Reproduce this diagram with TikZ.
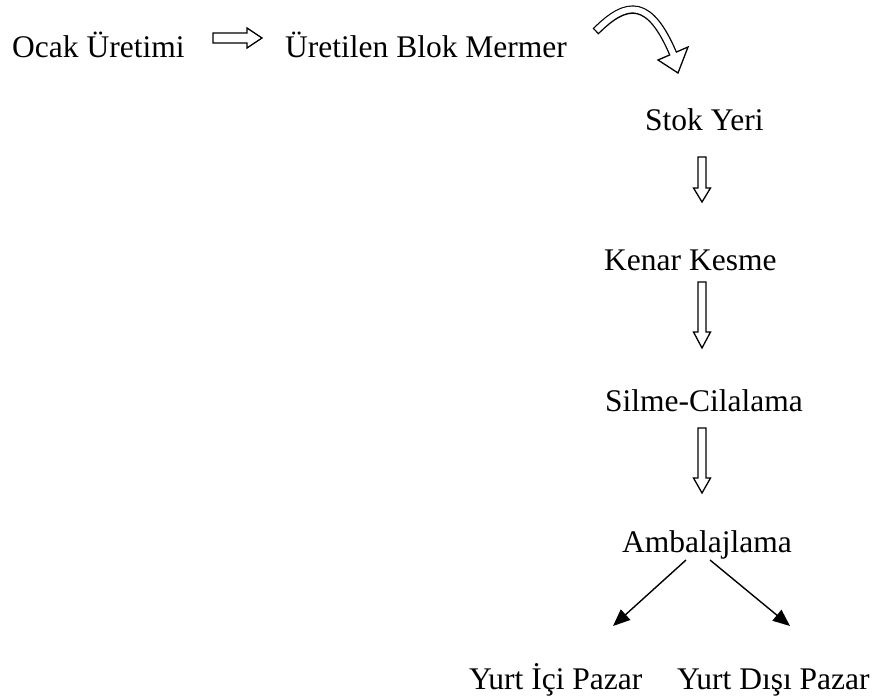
\documentclass[tikz,border=0pt]{standalone}
\usepackage{fontspec}
\setmainfont{Liberation Serif}
\usetikzlibrary{arrows.meta}
\newcommand\downblock[4]{% x, top, headbase, tip
  \draw[blockarrow] (#1-4,#2) -- (#1+4,#2) -- (#1+4,#3) -- (#1+8.5,#3) -- (#1,#4) -- (#1-8.5,#3) -- (#1-4,#3) -- cycle;}
\begin{document}
\begin{tikzpicture}[x=1pt,y=-1pt,
  lbl/.style={anchor=base west, inner sep=0pt, font=\fontsize{31.5}{36}\selectfont},
  blockarrow/.style={draw=black, line width=1.3pt, fill=white, line join=miter},
  thinarrow/.style={line width=1.4pt, -{Triangle[length=17pt,width=14pt]}}]
\useasboundingbox (0,0) rectangle (874,699);

\node[lbl] (ocak) at (12,57) {Ocak Üretimi};
\node[lbl] (uret) at (285,57) {Üretilen Blok Mermer};
\node[lbl] (stok) at (645,130) {Stok Yeri};
\node[lbl] (kenar) at (604,270) {Kenar Kesme};
\node[lbl] (silme) at (605,411) {Silme-Cilalama};
\node[lbl] (amb) at (622,552) {Ambalajlama};
\node[lbl] (yic) at (469,689) {Yurt İçi Pazar};
\node[lbl] (ydis) at (677,689) {Yurt Dışı Pazar};

% horizontal block arrow
\draw[blockarrow] (213,33) -- (247,33) -- (247,28) -- (262,38) -- (247,48) -- (247,43) -- (213,43) -- cycle;

% curved block arrow
\draw[line width=8.4pt] (595.5,31.5) .. controls (627.3,-0.3) and (650,-1.6) .. (673.8,55.3);
\draw[blockarrow] (658,60) -- (678,73) -- (688,47) -- cycle;
\draw[white, line width=5.8pt, shorten <=1.3pt] (595.5,31.5) .. controls (627.3,-0.3) and (650,-1.6) .. (673.8,55.3);

% vertical block arrows
\downblock{702}{157}{188}{202}
\downblock{702}{282}{332}{348}
\downblock{702}{428}{478}{493}

% diagonal arrows
\coordinate (a1s) at (686,560);
\coordinate (a1e) at (613,626);
\coordinate (a2s) at (710,560);
\coordinate (a2e) at (790,626);
\draw[thinarrow] (a1s) -- (a1e);
\draw[thinarrow] (a2s) -- (a2e);
\end{tikzpicture}
\end{document}
